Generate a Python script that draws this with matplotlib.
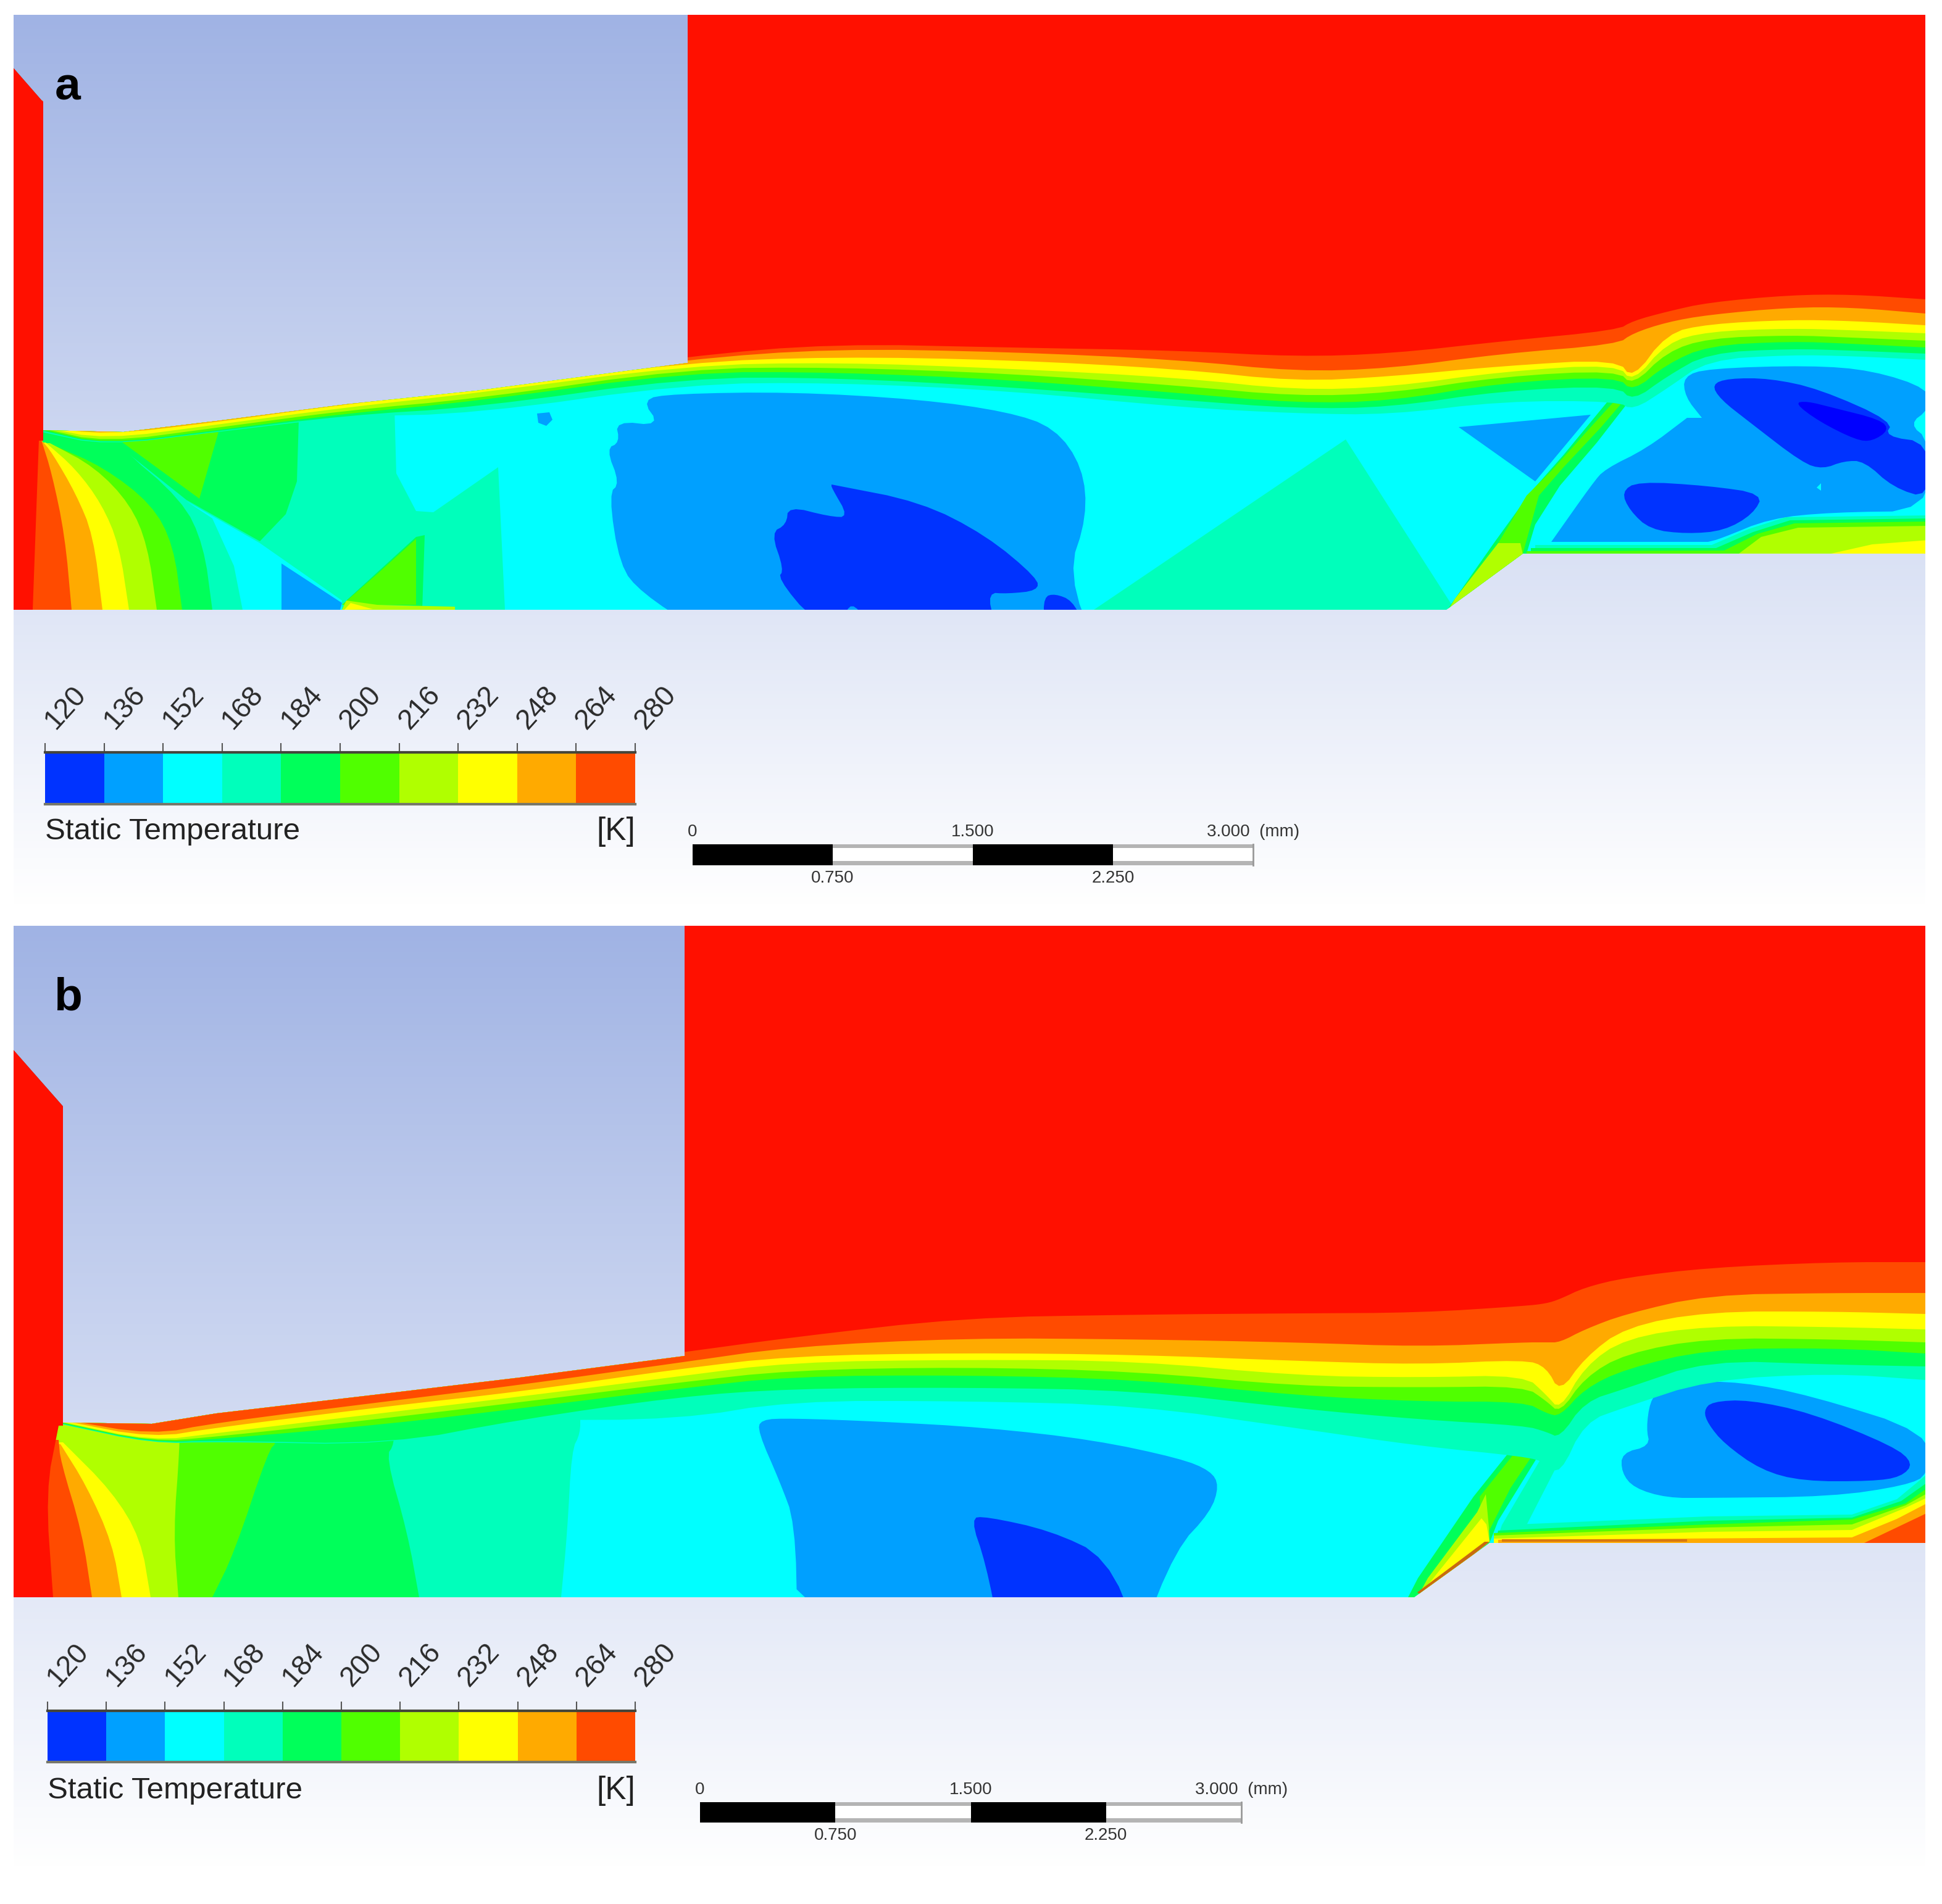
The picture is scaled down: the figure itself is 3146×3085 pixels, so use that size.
import numpy as np
import matplotlib
matplotlib.use("Agg")
import matplotlib.pyplot as plt
from matplotlib.colors import LinearSegmentedColormap, ListedColormap, BoundaryNorm
from matplotlib.patches import Polygon

W, H = 3146, 3085
plt.rcParams['font.family'] = ['Liberation Sans', 'DejaVu Sans']

# legend values
levels = [120, 136, 152, 168, 184, 200, 216, 232, 248, 264, 280]
band_colors = ['#0033FF', '#00A0FF', '#00FFFF', '#00FFBB', '#00FF5A', '#50FF00',
               '#B0FF00', '#FFFF00', '#FFAA00', '#FF4B00']
c120, c136, c152, c168, c184, c200, c216, c232, c248, c264 = band_colors
c_low = '#0000FF'
c_red = '#FF1000'
scale_major = [0, 1.5, 3.0]
scale_major_labels = ['0', '1.500', '3.000  (mm)']
scale_minor = [0.75, 2.25]
scale_minor_labels = ['0.750', '2.250']

# panel a in image pixels
a_domain = [(22, 110), (70, 165), (70, 697), (200, 700), (351, 682), (561, 655), (772, 633), (1114, 588),
            (1114, 24), (3119, 24), (3119, 897), (2467, 897), (2343, 988), (22, 988)]
a_x = [68, 170, 351, 561, 772, 1114, 1351, 1632, 1912, 2100, 2253, 2433, 2620, 2645, 2700, 2767, 2900, 3000, 3119]
a_top_264 = [690, 695, 676, 650, 625, 577, 557, 563, 568, 578, 573, 553, 535, 520, 505, 490, 478, 477, 485]
a_top_248 = [690, 702, 678, 652, 628, 582, 565, 570, 583, 602, 597, 573, 558, 540, 522, 510, 498, 498, 508]
a_top_232 = [690, 705, 684, 655, 632, 587, 578, 583, 598, 618, 610, 593, 582, 615, 540, 525, 518, 520, 527]
a_top_216 = [692, 712, 688, 660, 637, 592, 587, 597, 612, 632, 627, 602, 590, 620, 555, 537, 532, 535, 540]
a_top_200 = [694, 717, 693, 665, 646, 597, 595, 605, 625, 642, 637, 610, 600, 625, 570, 548, 543, 547, 552]
a_top_184 = [696, 720, 697, 670, 650, 603, 603, 615, 637, 653, 650, 620, 610, 635, 590, 560, 553, 557, 563]
a_top_168 = [698, 721, 699, 673, 660, 612, 612, 627, 648, 662, 660, 633, 625, 650, 610, 572, 565, 568, 573]
a_top_152 = [700, 722, 700, 675, 670, 622, 620, 633, 660, 670, 672, 650, 650, 665, 630, 583, 575, 577, 583]

a_fan_184 = [(344, 988), (330, 883), (295, 810), (189, 720), (189, 690)]
a_fan_200 = [(295, 988), (281, 883), (246, 817), (168, 757), (88, 722)]
a_fan_216 = [(254, 988), (239, 883), (211, 817), (154, 757), (81, 718)]
a_fan_232 = [(209, 988), (193, 883), (165, 817), (123, 760), (74, 717)]
a_fan_248 = [(166, 988), (151, 867), (123, 800), (84, 733), (67, 713)]
a_fan_264 = [(116, 988), (105, 867), (84, 767), (67, 713)]
a_fan_red = [(53, 988), (63, 713)]

a_left_168 = [(63, 690), (491, 680), (639, 660), (642, 767), (674, 828), (702, 830), (807, 757), (818, 988), (63, 988)]
a_left_184 = [(88, 700), (484, 680), (481, 780), (463, 833), (421, 877), (302, 810), (189, 720)]
a_left_200 = [(189, 710), (354, 700), (323, 808)]
a_left_152 = [(302, 812), (421, 880), (554, 973), (554, 988), (393, 988), (379, 917), (344, 840)]
a_left_136 = [(456, 913), (554, 977), (551, 988), (456, 988)]
a_low_184 = [(561, 973), (674, 870), (688, 867), (684, 988), (561, 988)]
a_low_200 = [(554, 980), (611, 930), (674, 873), (674, 980), (611, 980)]
a_low_216 = [(554, 988), (561, 973), (611, 980), (737, 983), (737, 988)]
a_low_232 = [(558, 988), (568, 977), (604, 987)]
a_dot_136 = [(870, 670), (890, 668), (895, 680), (885, 690), (872, 685)]

a_core_136 = [(1039, 647), (1070, 690), (997, 682), (1004, 717), (982, 727), (1004, 783), (986, 800), (1004, 917),
              (1039, 960), (1130, 1020), (1780, 1060), (1730, 930), (1761, 837), (1754, 757), (1709, 693), (1632, 667),
              (1491, 647), (1281, 635), (1091, 638)]
a_core_120 = [(1347, 785), (1491, 813), (1597, 867), (1681, 937), (1681, 957), (1632, 962), (1600, 960), (1611, 1010),
              (1404, 1005), (1379, 975), (1365, 1005), (1316, 1005), (1260, 937), (1270, 923), (1249, 863), (1274, 850),
              (1277, 820), (1344, 837), (1375, 838), (1347, 790), (1347, 785)]
a_core_120b = [(1691, 1010), (1691, 967), (1709, 962), (1737, 973), (1755, 1010)]
a_wedge_168 = [(1772, 988), (2180, 712), (2357, 988)]
a_tri_136 = [(2363, 692), (2577, 672), (2487, 780)]
a_shock_184 = [(2627, 623), (2533, 737), (2480, 797), (2420, 880), (2357, 970), (2343, 990), (2473, 897),
               (2487, 850), (2527, 787), (2587, 717), (2660, 623)]
a_shock_200 = [(2627, 637), (2567, 703), (2513, 763), (2473, 803), (2427, 880), (2370, 970), (2393, 970), (2467, 897),
               (2493, 803), (2533, 757), (2593, 693), (2647, 630)]
a_shock_216 = [(2463, 880), (2427, 880), (2357, 970), (2345, 990), (2380, 970), (2467, 898)]
# repeated points keep the sharp corners when the outline is rounded
a_lobe_136 = [(2513, 878), (2513, 878), (2513, 878), (2580, 783), (2600, 760), (2667, 727), (2733, 677), (2733, 677),
              (2757, 677), (2757, 677), (2730, 643), (2727, 610),
              (2767, 597), (2933, 592), (3033, 600), (3125, 630), (3125, 663), (3093, 687), (3125, 713), (3125, 828),
              (2967, 830), (2867, 840), (2787, 873), (2767, 878), (2767, 878)]
a_lobe_120 = [(2773, 623), (2800, 613), (2867, 613), (2947, 630), (3067, 683), (3053, 707), (3125, 717), (3125, 808),
              (3067, 790), (3020, 747), (2987, 747), (2953, 760), (2920, 750), (2833, 683), (2787, 647)]
a_lobe_low = [(2907, 653), (2927, 650), (2967, 660), (3047, 680), (3060, 697), (3033, 715), (3007, 713), (2947, 683)]
a_lobe_120b = [(2627, 797), (2653, 780), (2767, 787), (2857, 800), (2840, 833), (2793, 860), (2733, 865), (2673, 858),
               (2640, 827)]
a_lobe_dot = [(2943, 790), (2950, 783), (2950, 795)]
a_wall_168 = [(2487, 883), (2773, 883), (2833, 857), (2893, 838), (3125, 835), (3125, 905), (2487, 905)]
a_wall_184 = [(2480, 888), (2780, 888), (2840, 862), (2900, 843), (3125, 840), (3125, 905), (2480, 905)]
a_wall_200 = [(2473, 893), (2793, 892), (2847, 865), (2907, 848), (3125, 845), (3125, 905), (2473, 905)]
a_wall_216 = [(2813, 900), (2853, 870), (2913, 855), (3125, 852), (3125, 905), (2813, 905)]
a_wall_232 = [(2953, 900), (3033, 882), (3125, 875), (3125, 905), (2953, 905)]

# panel b
b_domain = [(22, 1701), (102, 1792), (102, 2305), (246, 2307), (351, 2290), (632, 2257), (842, 2232), (1109, 2197),
            (1109, 1500), (3119, 1500), (3119, 2500), (2413, 2500), (2291, 2588), (22, 2588)]
b_x = [102, 246, 351, 632, 842, 1100, 1281, 1561, 1842, 2100, 2300, 2470, 2505, 2527, 2567, 2633, 2767, 2967, 3119]
b_top_264 = [2298, 2300, 2285, 2250, 2225, 2192, 2167, 2135, 2130, 2128, 2127, 2116, 2112, 2105, 2086, 2070, 2054, 2045, 2045]
b_top_248 = [2300, 2325, 2305, 2270, 2244, 2208, 2182, 2168, 2170, 2175, 2182, 2175, 2175, 2175, 2154, 2129, 2098, 2095, 2095]
b_top_232 = [2302, 2330, 2313, 2278, 2255, 2218, 2197, 2192, 2195, 2205, 2211, 2203, 2215, 2257, 2200, 2150, 2125, 2125, 2129]
b_top_216 = [2304, 2335, 2322, 2288, 2263, 2230, 2207, 2203, 2205, 2229, 2232, 2228, 2260, 2285, 2214, 2168, 2148, 2150, 2154]
b_top_200 = [2305, 2336, 2328, 2297, 2272, 2240, 2220, 2215, 2222, 2246, 2248, 2246, 2270, 2290, 2232, 2193, 2168, 2170, 2175]
b_top_184 = [2306, 2337, 2332, 2307, 2282, 2250, 2230, 2228, 2235, 2261, 2271, 2271, 2290, 2295, 2250, 2218, 2186, 2184, 2193]
b_top_168 = [2307, 2338, 2334, 2340, 2300, 2263, 2250, 2248, 2253, 2282, 2300, 2310, 2320, 2330, 2271, 2250, 2204, 2211, 2214]
b_top_152 = [2308, 2339, 2336, 2341, 2301, 2300, 2270, 2270, 2277, 2314, 2343, 2360, 2370, 2390, 2304, 2280, 2236, 2225, 2236]

b_fan_152 = [(909, 2588), (919, 2483), (926, 2350), (940, 2323), (940, 2290)]
b_fan_168 = [(679, 2588), (660, 2483), (625, 2360), (639, 2340), (639, 2290)]
b_fan_184 = [(344, 2588), (379, 2517), (435, 2350), (449, 2337), (449, 2290)]
b_fan_200 = [(289, 2588), (281, 2483), (291, 2347), (291, 2290)]
b_fan_216 = [(244, 2588), (228, 2493), (182, 2417), (102, 2337)]
b_fan_232 = [(197, 2588), (182, 2500), (140, 2407), (98, 2340)]
b_fan_248 = [(149, 2588), (133, 2483), (98, 2367), (95, 2333)]
b_fan_264 = [(86, 2588), (74, 2417), (95, 2310)]

b_core_136 = [(1232, 2300), (1228, 2320), (1263, 2400), (1288, 2467), (1292, 2640), (1845, 2660), (1905, 2510),
              (1961, 2450), (1975, 2407), (1961, 2383), (1912, 2363), (1772, 2333), (1597, 2313), (1421, 2303), (1281, 2298)]
b_core_120 = [(1572, 2460), (1597, 2457), (1702, 2480), (1793, 2523), (1845, 2650), (1620, 2650), (1597, 2533)]
b_shock_184 = [(2507, 2282), (2447, 2350), (2387, 2425), (2297, 2557), (2280, 2590), (2300, 2590), (2413, 2500),
               (2427, 2464), (2493, 2357), (2553, 2271)]
b_shock_200 = [(2513, 2282), (2457, 2350), (2397, 2425), (2400, 2475), (2413, 2479), (2447, 2411), (2500, 2332), (2540, 2279)]
b_shock_216 = [(2407, 2421), (2393, 2450), (2313, 2557), (2295, 2590), (2413, 2498), (2412, 2475)]
b_shock_232 = [(2400, 2460), (2322, 2557), (2296, 2590), (2302, 2590), (2413, 2498), (2408, 2470)]
b_ramp_hot = [(2296, 2580), (2405, 2498), (2413, 2498), (2304, 2586)]
b_lobe_168 = [(2553, 2250), (2500, 2357), (2433, 2471), (2473, 2471), (2513, 2393), (2553, 2314), (2607, 2257), (2667, 2225)]
b_lobe_136 = [(2673, 2271), (2687, 2254), (2733, 2239), (2820, 2239), (2933, 2261), (3125, 2321), (3125, 2389),
              (3087, 2407), (2967, 2425), (2767, 2427), (2700, 2427), (2647, 2411), (2627, 2386), (2627, 2354),
              (2673, 2343), (2667, 2314)]
b_lobe_120 = [(2760, 2286), (2773, 2271), (2833, 2268), (2933, 2289), (3067, 2343), (3100, 2371), (3080, 2393),
              (3033, 2400), (2920, 2400), (2853, 2382), (2793, 2339), (2767, 2307)]
b_wall_168 = [(2433, 2471), (2767, 2457), (3000, 2454), (3073, 2429), (3125, 2386), (3125, 2510), (2420, 2510)]
b_wall_184 = [(2427, 2480), (2767, 2464), (3000, 2459), (3080, 2432), (3125, 2400), (3125, 2510), (2420, 2510)]
b_wall_200 = [(2420, 2484), (2767, 2470), (3000, 2462), (3087, 2436), (3125, 2409), (3125, 2510), (2420, 2510)]
b_wall_216 = [(2420, 2488), (2767, 2475), (3000, 2470), (3087, 2439), (3125, 2418), (3125, 2510), (2420, 2510)]
b_wall_232 = [(2420, 2493), (2767, 2482), (3000, 2479), (3087, 2443), (3125, 2425), (3125, 2510), (2420, 2510)]
b_wall_248 = [(2427, 2495), (3000, 2491), (3073, 2461), (3125, 2434), (3125, 2510), (2427, 2510)]
b_wall_264 = [(3020, 2500), (3125, 2450), (3125, 2510), (3020, 2510)]
b_wall_line = [(2433, 2494), (2733, 2494), (2733, 2498), (2433, 2498)]


def chaikin(pts, closed=False, rounds=2):
    p = np.asarray(pts, dtype=float)
    for _ in range(rounds):
        q = np.roll(p, -1, axis=0) if closed else p[1:]
        s = p if closed else p[:-1]
        a = 0.75 * s + 0.25 * q
        b = 0.25 * s + 0.75 * q
        out = np.empty((len(a) * 2, 2))
        out[0::2] = a
        out[1::2] = b
        if not closed:
            out = np.vstack([p[0], out, p[-1]])
        p = out
    return p


def paint(ax, pts, color, clip, smooth=False):
    p = chaikin(pts, closed=True) if smooth else np.asarray(pts, dtype=float)
    patch = Polygon(p, closed=True, facecolor=color, edgecolor='none', linewidth=0)
    ax.add_patch(patch)
    patch.set_clip_path(clip)


def paint_fan(ax, curve, color, clip):
    # everything left of a fan curve, curve runs from the floor up to the corner
    p = chaikin(curve).tolist()
    bottom = curve[0][1] + 12
    p = [[curve[0][0], bottom]] + p + [[15, curve[-1][1]], [15, bottom]]
    paint(ax, p, color, clip)


def paint_above(ax, xs, tops, color, clip, top_y):
    # everything above a band edge
    p = chaikin(list(zip(xs, tops))).tolist()
    p = p + [[xs[-1] + 10, tops[-1]], [xs[-1] + 10, top_y], [xs[0], top_y]]
    paint(ax, p, color, clip)


def px_axes(fig, x0, y0, x1, y1):
    ax = fig.add_axes([x0 / W, 1 - y1 / H, (x1 - x0) / W, (y1 - y0) / H])
    ax.patch.set_alpha(0)
    return ax


def legend(fig, x0, x1, y0, y1, lab_y, text_y):
    ax = px_axes(fig, x0, y0, x1, y1)
    cmap = ListedColormap(band_colors)
    norm = BoundaryNorm(levels, cmap.N)
    ax.pcolormesh(levels, [0, 1], [levels[:-1]], cmap=cmap, norm=norm)
    ax.set_xlim(levels[0], levels[-1])
    ax.set_yticks([])
    ax.set_xticks(levels)
    ax.set_xticklabels([])
    ax.tick_params(axis='x', top=True, bottom=False, length=11, width=1.5, color='#555555')
    for s in ['left', 'right']:
        ax.spines[s].set_visible(False)
    ax.spines['top'].set_linewidth(3)
    ax.spines['top'].set_color('#45453A')
    ax.spines['bottom'].set_linewidth(3)
    ax.spines['bottom'].set_color('#77776A')
    # rotated tick labels sit up and to the right of the ticks
    trans = ax.get_xaxis_transform()
    off = (y1 - lab_y) / (y1 - y0)
    for v in levels:
        ax.annotate(str(v), (v, off), xycoords=trans, xytext=(24, 0), textcoords='offset points',
                    rotation=48, ha='center', va='center', fontsize=33, color='#2A2A2A',
                    annotation_clip=False)
    lab = (y1 - text_y) / (y1 - y0)
    ax.text(levels[0], lab, 'Static Temperature', transform=trans, ha='left', va='center',
            fontsize=35.5, color='#222222')
    ax.text(levels[-1], lab, '[K]', transform=trans, ha='right', va='center',
            fontsize=37, color='#222222')


def scale_bar(fig, x0, x1, y0, y1):
    ax = px_axes(fig, x0, y0, x1, y1)
    ax.set_xlim(0, 3.0)
    ax.set_ylim(0, 1)
    edges = sorted(scale_major + scale_minor)
    for i in range(4):
        # black and hollow segments, the hollow ones have grey top and bottom edges
        if i % 2 == 0:
            ax.barh(0.5, edges[i + 1] - edges[i], left=edges[i], height=1.0, color='black', edgecolor='none')
        else:
            ax.barh(0.5, edges[i + 1] - edges[i], left=edges[i], height=1.0, color='#B4B4B4', edgecolor='none')
            ax.barh(0.52, edges[i + 1] - edges[i], left=edges[i], height=0.6, color='white', edgecolor='none')
    for name, s in ax.spines.items():
        s.set_visible(name == 'right')
        s.set_color('#999999')
        s.set_linewidth(2)
    ax.set_yticks([])
    ax.set_xticks(scale_major)
    ax.set_xticklabels(scale_major_labels, fontsize=20, color='#333333')
    ax.set_xticks(scale_minor, minor=True)
    ax.set_xticklabels(scale_minor_labels, minor=True, fontsize=20, color='#333333')
    ax.tick_params(axis='x', which='major', length=0, top=False, bottom=False,
                   labeltop=True, labelbottom=False, pad=5)
    ax.tick_params(axis='x', which='minor', length=0, top=False, bottom=False,
                   labeltop=False, labelbottom=True, pad=6)


fig = plt.figure(figsize=(W / 100, H / 100), dpi=100, facecolor='white')
ax = fig.add_axes([0, 0, 1, 1])
ax.set_xlim(0, W)
ax.set_ylim(H, 0)
ax.axis('off')

back = LinearSegmentedColormap.from_list('back', ['#A0B3E4', '#FFFFFF'])
grad = np.linspace(0, 1, 256).reshape(-1, 1)
ax.imshow(grad, cmap=back, extent=(22, 3119, 1470, 24), aspect='auto', zorder=0)
ax.imshow(grad, cmap=back, extent=(22, 3119, 3030, 1500), aspect='auto', zorder=0)
ax.set_xlim(0, W)
ax.set_ylim(H, 0)

# panel a
clip = Polygon(a_domain, closed=True, transform=ax.transData)
paint(ax, a_domain, c152, clip)
for pts, col in [(a_left_168, c168), (a_left_184, c184)]:
    paint(ax, pts, col, clip)
paint_fan(ax, a_fan_184, c184, clip)
for pts, col in [(a_left_200, c200), (a_left_152, c152), (a_left_136, c136), (a_low_184, c184),
                 (a_low_200, c200), (a_low_216, c216), (a_low_232, c232)]:
    paint(ax, pts, col, clip)
paint(ax, a_dot_136, c136, clip)
paint(ax, a_core_136, c136, clip, smooth=True)
paint(ax, a_core_120, c120, clip, smooth=True)
paint(ax, a_core_120b, c120, clip, smooth=True)
paint(ax, a_wedge_168, c168, clip)
paint(ax, a_tri_136, c136, clip)
paint(ax, a_shock_184, c184, clip)
paint(ax, a_shock_200, c200, clip)
paint(ax, a_shock_216, c216, clip)
paint(ax, a_lobe_136, c136, clip, smooth=True)
paint(ax, a_lobe_120, c120, clip, smooth=True)
paint(ax, a_lobe_low, c_low, clip, smooth=True)
paint(ax, a_lobe_120b, c120, clip, smooth=True)
paint(ax, a_lobe_dot, c152, clip)
for pts, col in [(a_wall_168, c168), (a_wall_184, c184), (a_wall_200, c200), (a_wall_216, c216), (a_wall_232, c232)]:
    paint(ax, pts, col, clip)
for crv, col in [(a_fan_200, c200), (a_fan_216, c216), (a_fan_232, c232), (a_fan_248, c248),
                 (a_fan_264, c264), (a_fan_red, c_red)]:
    paint_fan(ax, crv, col, clip)
for tops, col in [(a_top_152, c168), (a_top_168, c184), (a_top_184, c200), (a_top_200, c216),
                  (a_top_216, c232), (a_top_232, c248), (a_top_248, c264), (a_top_264, c_red)]:
    paint_above(ax, a_x, tops, col, clip, 0)

# panel b
clip_b = Polygon(b_domain, closed=True, transform=ax.transData)
paint(ax, b_domain, c152, clip_b)
for crv, col in [(b_fan_152, c168), (b_fan_168, c184), (b_fan_184, c200)]:
    paint_fan(ax, crv, col, clip_b)
paint(ax, b_core_136, c136, clip_b, smooth=True)
paint(ax, b_core_120, c120, clip_b, smooth=True)
paint(ax, b_lobe_168, c168, clip_b)
paint(ax, b_shock_184, c184, clip_b)
paint(ax, b_shock_200, c200, clip_b)
paint(ax, b_shock_216, c216, clip_b)
paint(ax, b_shock_232, c232, clip_b)
paint(ax, b_ramp_hot, '#C86A10', clip_b)
paint(ax, b_lobe_136, c136, clip_b, smooth=True)
paint(ax, b_lobe_120, c120, clip_b, smooth=True)
for pts, col in [(b_wall_168, c168), (b_wall_184, c184), (b_wall_200, c200), (b_wall_216, c216),
                 (b_wall_232, c232), (b_wall_248, c248), (b_wall_264, c264), (b_wall_line, '#D8780F')]:
    paint(ax, pts, col, clip_b)
for crv, col in [(b_fan_200, c216), (b_fan_216, c232), (b_fan_232, c248), (b_fan_248, c264), (b_fan_264, c_red)]:
    paint_fan(ax, crv, col, clip_b)
for tops, col in [(b_top_152, c168), (b_top_168, c184), (b_top_184, c200), (b_top_200, c216),
                  (b_top_216, c232), (b_top_232, c248), (b_top_248, c264), (b_top_264, c_red)]:
    paint_above(ax, b_x, tops, col, clip_b, 1400)

# red nozzle lips
paint(ax, [(22, 110), (70, 165), (70, 714), (22, 714)], c_red, clip)
paint(ax, [(22, 1701), (102, 1792), (102, 2310), (22, 2310)], c_red, clip_b)

ax.text(110, 142, 'a', fontsize=54, fontweight='bold', color='black', ha='center', va='center')
ax.text(110, 1617, 'b', fontsize=54, fontweight='bold', color='black', ha='center', va='center')

legend(fig, 73, 1029, 1219, 1303, 1147, 1347)
legend(fig, 77, 1029, 2772, 2855, 2698, 2901)
scale_bar(fig, 1122, 2030, 1368, 1402)
scale_bar(fig, 1134, 2011, 2920, 2953)

fig.savefig('out.png', dpi=100, facecolor='white')
